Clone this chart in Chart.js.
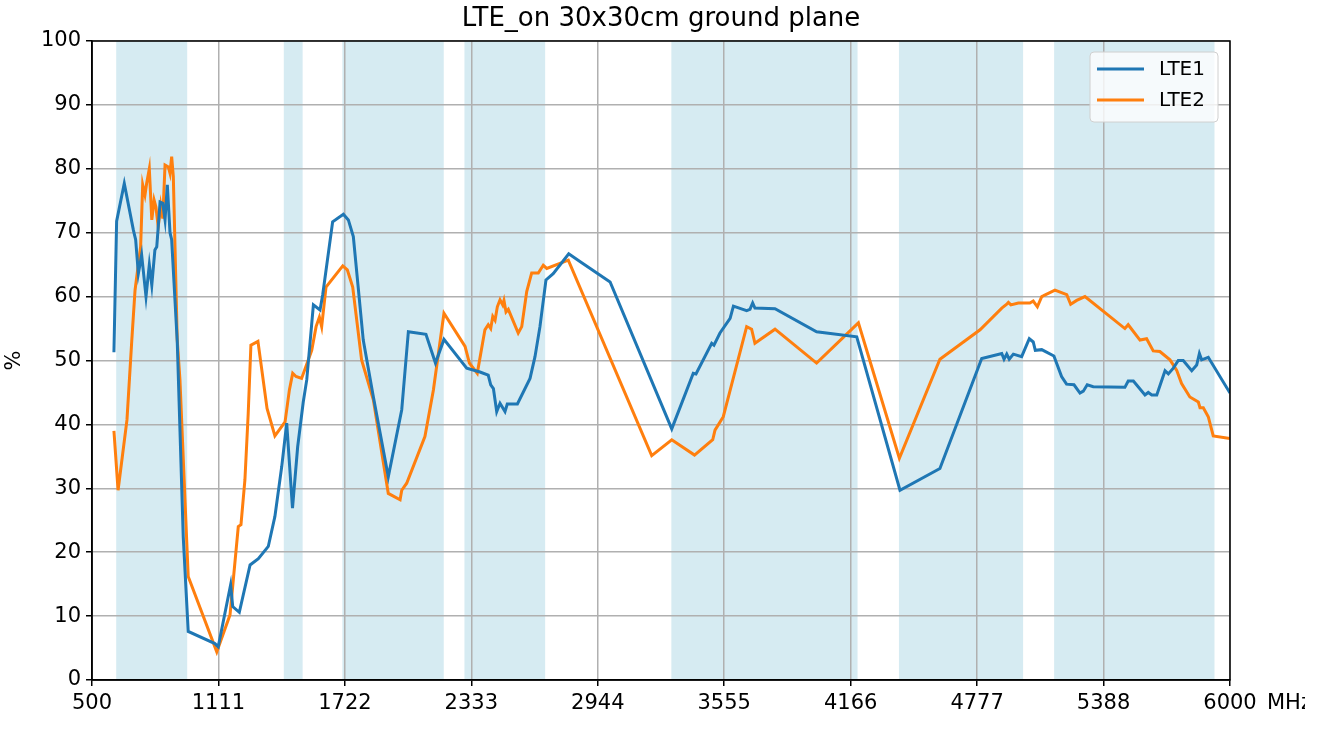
<!DOCTYPE html>
<html>
<head>
<meta charset="utf-8">
<script src="https://cdn.jsdelivr.net/npm/chart.js@4.4.1/dist/chart.umd.min.js"></script>
<style>
  html, body { margin: 0; padding: 0; background: #fff; }
  #wrap { width: 1319px; height: 731px; position: relative; }
</style>
</head>
<body>
<div id="wrap"><canvas id="myChart"></canvas></div>
<script>
// frequencies in MHz, efficiency in %
var lte1Freq = [606, 619, 656, 700, 711, 724, 740, 761, 777, 789, 804, 813, 829, 842, 853, 864, 877, 885, 912, 941, 965,
    1094, 1110, 1170, 1180, 1212, 1264, 1304, 1352, 1384, 1417, 1441, 1469, 1494, 1521, 1538, 1570, 1602, 1615, 1663,
    1715, 1739, 1763, 1811, 1860, 1932, 1997, 2029, 2114, 2160, 2201, 2311, 2375, 2415, 2427, 2440, 2456, 2472, 2496,
    2507, 2556, 2617, 2641, 2665, 2694, 2729, 2804, 2858, 3004, 3302, 3406, 3419, 3495, 3506, 3535, 3584, 3600, 3664,
    3680, 3693, 3704, 3801, 4002, 4196, 4405, 4598, 4800, 4897, 4908, 4921, 4933, 4953, 4993, 5030, 5049, 5059, 5090,
    5149, 5186, 5210, 5246, 5275, 5291, 5310, 5339, 5492, 5508, 5533, 5589, 5605, 5622, 5646, 5686, 5702, 5726, 5750,
    5774, 5815, 5839, 5852, 5863, 5895, 6000];
var lte1Eff = [51.3, 71.8, 77.7, 70.4, 68.9, 63.6, 66.5, 60.0, 65.0, 61.8, 67.3, 67.8, 74.8, 74.6, 72.0, 77.5, 70.0, 68.9, 53.0, 22.4, 7.6,
    5.7, 5.2, 14.9, 11.5, 10.6, 18.0, 19.0, 20.9, 25.6, 33.4, 40.2, 26.9, 36.5, 43.5, 47.0, 58.7, 57.9, 60.3, 71.7,
    72.9, 72.0, 69.4, 53.2, 44.3, 31.8, 42.3, 54.5, 54.1, 49.6, 53.3, 48.8, 48.2, 47.7, 46.2, 45.6, 42.0, 43.3, 42.0,
    43.2, 43.2, 47.2, 50.6, 55.3, 62.6, 63.6, 66.7, 65.5, 62.3, 39.3, 48.0, 47.9, 52.7, 52.4, 54.3, 56.6, 58.5, 57.8,
    58.0, 59.0, 58.2, 58.1, 54.5, 53.7, 29.7, 33.1, 50.3, 51.1, 50.2, 51.0, 50.2, 51.0, 50.6, 53.4, 52.9, 51.6, 51.7,
    50.7, 47.5, 46.3, 46.2, 44.9, 45.2, 46.2, 45.9, 45.8, 46.8, 46.8, 44.6, 45.0, 44.6, 44.6, 48.4, 47.9, 48.8, 50.0,
    50.0, 48.4, 49.3, 51.1, 50.1, 50.5, 44.9];

var lte2Freq = [606, 626, 669, 692, 708, 735, 745, 756, 764, 777, 789, 800, 809, 820, 832, 842, 853, 869, 877, 885, 893,
    912, 925, 965, 1103, 1167, 1207, 1220, 1239, 1255, 1268, 1302, 1346, 1384, 1433, 1454, 1470, 1486, 1513, 1562,
    1583, 1599, 1610, 1631, 1712, 1734, 1760, 1803, 1860, 1932, 1989, 1997, 2021, 2109, 2150, 2201, 2303, 2324, 2362,
    2399, 2415, 2427, 2437, 2448, 2459, 2472, 2485, 2491, 2501, 2512, 2560, 2577, 2601, 2625, 2657, 2681, 2698, 2802,
    3205, 3302, 3412, 3500, 3511, 3551, 3664, 3688, 3704, 3801, 4002, 4204, 4402, 4598, 4792, 4897, 4921, 4929, 4941,
    4977, 5033, 5049, 5069, 5090, 5097, 5154, 5211, 5230, 5259, 5299, 5492, 5508, 5565, 5597, 5629, 5661, 5710, 5742,
    5766, 5806, 5847, 5855, 5871, 5895, 5919, 6000];
var lte2Eff = [39.0, 29.7, 40.7, 53.0, 61.0, 67.8, 77.5, 75.9, 77.7, 80.0, 72.0, 75.1, 74.0, 70.9, 74.3, 72.2, 80.6, 80.3, 79.3, 81.9, 78.8,
    53.2, 47.0, 16.2, 4.4, 10.2, 24.0, 24.3, 31.3, 41.7, 52.4, 53.0, 42.5, 38.2, 40.4, 45.4, 48.0, 47.5, 47.2, 51.6,
    55.3, 56.8, 55.3, 61.5, 64.8, 64.2, 61.5, 50.1, 43.8, 29.2, 28.2, 29.7, 30.8, 38.1, 45.4, 57.4, 52.2, 49.6, 48.0,
    54.8, 55.6, 55.0, 56.9, 56.3, 58.4, 59.5, 58.7, 59.4, 57.6, 58.0, 54.3, 55.3, 60.8, 63.7, 63.7, 64.9, 64.4, 65.7,
    35.1, 37.6, 35.2, 37.6, 39.1, 41.2, 55.3, 54.9, 52.7, 54.9, 49.6, 55.9, 34.7, 50.2, 54.8, 58.2, 58.8, 59.1, 58.7,
    59.0, 59.0, 59.3, 58.4, 60.0, 60.1, 61.0, 60.3, 58.8, 59.4, 60.0, 55.0, 55.6, 53.2, 53.4, 51.5, 51.4, 50.1, 48.5,
    46.4, 44.3, 43.5, 42.6, 42.6, 41.2, 38.2, 37.8];

// LTE bands shaded in the background [start, end] MHz
var bandStart = [617, 1427, 1710, 2300, 3300, 4400, 5150];
var bandEnd = [960, 1518, 2200, 2690, 4200, 5000, 5925];

var xTickValues = [500, 1111.11, 1722.22, 2333.33, 2944.44, 3555.56, 4166.67, 4777.78, 5388.89, 6000];
var xTickLabels = ['500', '1111', '1722', '2333', '2944', '3555', '4166', '4777', '5388', '6000'];

var seriesNames = ['LTE1', 'LTE2'];
var seriesColors = ['#1f77b4', '#ff7f0e'];

function toPoints(xs, ys) {
    var pts = [];
    for (var i = 0; i < xs.length; i++) {
        pts.push({x: xs[i], y: ys[i]});
    }
    return pts;
}

var FONT = '"DejaVu Sans", sans-serif';

var decoPlugin = {
    id: 'deco',
    beforeDraw: function (chart) {
        var ctx = chart.ctx, area = chart.chartArea, xs = chart.scales.x;
        ctx.save();
        ctx.fillStyle = 'rgba(173, 216, 230, 0.5)';
        for (var i = 0; i < bandStart.length; i++) {
            var a = xs.getPixelForValue(bandStart[i]);
            var b = xs.getPixelForValue(bandEnd[i]);
            ctx.fillRect(a, area.top, b - a, area.bottom - area.top);
        }
        ctx.restore();
    },
    afterDraw: function (chart) {
        var ctx = chart.ctx, area = chart.chartArea;
        ctx.save();
        // frame
        ctx.strokeStyle = '#000';
        ctx.lineWidth = 1.5;
        ctx.strokeRect(area.left, area.top, area.right - area.left, area.bottom - area.top);

        // title
        ctx.fillStyle = '#000';
        ctx.font = '26px ' + FONT;
        ctx.textAlign = 'center';
        ctx.textBaseline = 'middle';
        ctx.fillText('LTE_on 30x30cm ground plane', (area.left + area.right) / 2, 19);

        // y label
        ctx.save();
        ctx.font = '21px ' + FONT;
        ctx.translate(15, (area.top + area.bottom) / 2);
        ctx.rotate(-Math.PI / 2);
        ctx.fillText('%', 0, 0);
        ctx.restore();

        // x unit, clipped at the figure edge like the original
        ctx.save();
        ctx.beginPath();
        ctx.rect(0, 0, 1305, chart.height);
        ctx.clip();
        ctx.font = '21px ' + FONT;
        ctx.textAlign = 'left';
        ctx.fillText('MHz', 1267, area.bottom + 24);
        ctx.restore();

        // legend
        var lx = 1090, ly = 52, lw = 128, lh = 70;
        ctx.fillStyle = 'rgba(255,255,255,0.8)';
        ctx.strokeStyle = '#d0d0d0';
        ctx.lineWidth = 1;
        ctx.beginPath();
        ctx.roundRect(lx, ly, lw, lh, 4);
        ctx.fill();
        ctx.stroke();
        ctx.font = '20px ' + FONT;
        ctx.textAlign = 'left';
        ctx.textBaseline = 'middle';
        for (var i = 0; i < seriesNames.length; i++) {
            var yy = ly + 17 + i * 31;
            ctx.strokeStyle = seriesColors[i];
            ctx.lineWidth = 3;
            ctx.beginPath();
            ctx.moveTo(lx + 7, yy);
            ctx.lineTo(lx + 54, yy);
            ctx.stroke();
            ctx.fillStyle = '#000';
            ctx.fillText(seriesNames[i], lx + 69, yy + 1);
        }
        ctx.restore();
    }
};

var ctx = document.getElementById('myChart');
var myChart = new Chart(ctx, {
    type: 'line',
    data: {
        datasets: [{
            label: seriesNames[0],
            data: toPoints(lte1Freq, lte1Eff),
            borderColor: seriesColors[0],
            borderWidth: 3,
            pointRadius: 0,
            tension: 0,
            fill: false
        }, {
            label: seriesNames[1],
            data: toPoints(lte2Freq, lte2Eff),
            borderColor: seriesColors[1],
            borderWidth: 3,
            pointRadius: 0,
            tension: 0,
            fill: false
        }]
    },
    options: {
        responsive: true,
        maintainAspectRatio: false,
        animation: false,
        layout: {padding: {top: 41, right: 89, left: 0, bottom: 0}},
        plugins: {
            legend: {display: false},
            tooltip: {enabled: false}
        },
        scales: {
            x: {
                type: 'linear',
                min: 500,
                max: 6000,
                afterFit: function (scale) { scale.height = 51; },
                afterBuildTicks: function (scale) {
                    scale.ticks = xTickValues.map(function (v) { return {value: v}; });
                },
                ticks: {
                    color: '#000',
                    font: {family: FONT, size: 21},
                    padding: 5,
                    maxRotation: 0,
                    autoSkip: false,
                    callback: function (value, index) { return xTickLabels[index]; }
                },
                grid: {color: '#b0b0b0', lineWidth: 1.5, tickColor: '#000', tickLength: 6},
                border: {display: true, color: '#000', width: 1.5}
            },
            y: {
                min: 0,
                max: 100,
                afterFit: function (scale) { scale.width = 92; },
                ticks: {
                    stepSize: 10,
                    color: '#000',
                    font: {family: FONT, size: 21},
                    padding: 5
                },
                grid: {color: '#b0b0b0', lineWidth: 1.5, tickColor: '#000', tickLength: 6},
                border: {display: true, color: '#000', width: 1.5}
            }
        }
    },
    plugins: [decoPlugin]
});
</script>
</body>
</html>
